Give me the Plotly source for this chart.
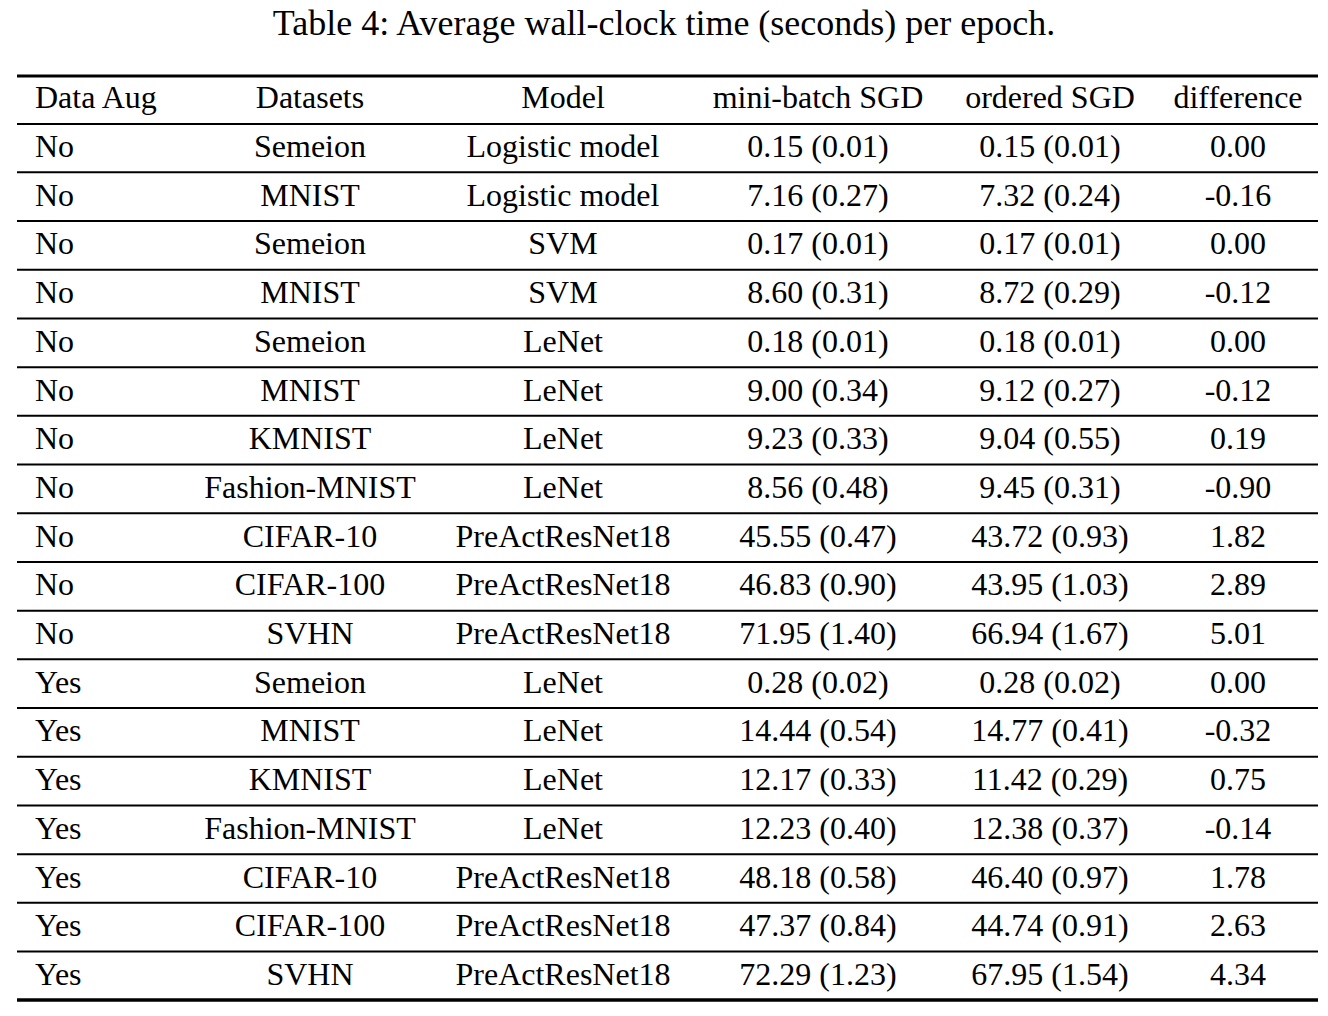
import plotly.graph_objects as go

title = "Table 4: Average wall-clock time (seconds) per epoch."

headers = ["Data Aug", "Datasets", "Model", "mini-batch SGD", "ordered SGD", "difference"]

data_aug = ["No"] * 11 + ["Yes"] * 7
datasets = ["Semeion", "MNIST", "Semeion", "MNIST", "Semeion", "MNIST", "KMNIST",
            "Fashion-MNIST", "CIFAR-10", "CIFAR-100", "SVHN",
            "Semeion", "MNIST", "KMNIST", "Fashion-MNIST", "CIFAR-10", "CIFAR-100", "SVHN"]
models = ["Logistic model", "Logistic model", "SVM", "SVM", "LeNet", "LeNet", "LeNet",
          "LeNet", "PreActResNet18", "PreActResNet18", "PreActResNet18",
          "LeNet", "LeNet", "LeNet", "LeNet", "PreActResNet18", "PreActResNet18", "PreActResNet18"]
minibatch_mean = [0.15, 7.16, 0.17, 8.60, 0.18, 9.00, 9.23, 8.56, 45.55, 46.83, 71.95,
                  0.28, 14.44, 12.17, 12.23, 48.18, 47.37, 72.29]
minibatch_std = [0.01, 0.27, 0.01, 0.31, 0.01, 0.34, 0.33, 0.48, 0.47, 0.90, 1.40,
                 0.02, 0.54, 0.33, 0.40, 0.58, 0.84, 1.23]
ordered_mean = [0.15, 7.32, 0.17, 8.72, 0.18, 9.12, 9.04, 9.45, 43.72, 43.95, 66.94,
                0.28, 14.77, 11.42, 12.38, 46.40, 44.74, 67.95]
ordered_std = [0.01, 0.24, 0.01, 0.29, 0.01, 0.27, 0.55, 0.31, 0.93, 1.03, 1.67,
               0.02, 0.41, 0.29, 0.37, 0.97, 0.91, 1.54]
difference = [0.00, -0.16, 0.00, -0.12, 0.00, -0.12, 0.19, -0.90, 1.82, 2.89, 5.01,
              0.00, -0.32, 0.75, -0.14, 1.78, 2.63, 4.34]

# layout in pixels
W, H = 1328, 1016
col_x = [35, 310, 563, 818, 1050, 1238]
header_y = 100
row0_y = 149
pitch = 48.7
x_left, x_right = 17, 1318
font = dict(family="Liberation Serif, Times New Roman, serif", size=32, color="black")

n = len(datasets)
row_y = [row0_y + i * pitch for i in range(n)]

columns = [
    data_aug,
    datasets,
    models,
    [f"{m:.2f} ({s:.2f})" for m, s in zip(minibatch_mean, minibatch_std)],
    [f"{m:.2f} ({s:.2f})" for m, s in zip(ordered_mean, ordered_std)],
    [f"{d:.2f}" for d in difference],
]

fig = go.Figure()
for j, col in enumerate(columns):
    pos = "middle right" if j == 0 else "middle center"
    fig.add_trace(go.Scatter(
        x=[col_x[j]] * (n + 1), y=[header_y] + row_y,
        text=[headers[j]] + col, mode="text", textposition=pos,
        textfont=font, hoverinfo="skip", showlegend=False,
    ))

# booktabs-style rules
def hrule(y, w):
    fig.add_shape(type="line", x0=x_left, x1=x_right, y0=y, y1=y,
                  xref="x", yref="y", line=dict(color="black", width=w))

hrule(76, 3)
hrule(124, 2)
for i in range(n - 1):
    hrule(row_y[i] - 1 + pitch / 2, 2)
hrule(1000, 3.5)

fig.update_layout(
    width=W, height=H,
    margin=dict(l=0, r=0, t=0, b=0),
    paper_bgcolor="white", plot_bgcolor="white",
    title=dict(text=title, x=0.5, xanchor="center", y=1 - 22 / H, yanchor="middle",
               font=dict(family=font["family"], size=36, color="black")),
    xaxis=dict(range=[0, W], visible=False, fixedrange=True),
    yaxis=dict(range=[H, 0], visible=False, fixedrange=True),
)

fig.write_html("out.html", config={"displayModeBar": False},
               post_script="document.body.style.margin='0';")
